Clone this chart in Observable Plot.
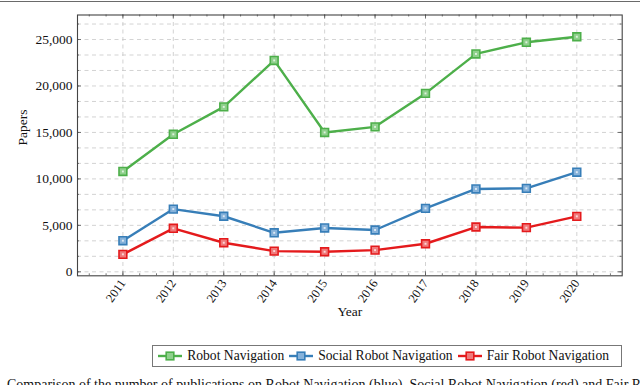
<!DOCTYPE html>
<html><head><meta charset="utf-8">
<script src="https://cdn.jsdelivr.net/npm/d3@7"></script>
<script src="https://cdn.jsdelivr.net/npm/@observablehq/plot@0.6"></script>
<style>
body{margin:0;width:640px;height:385px;overflow:hidden;background:#fff;font-family:"Liberation Serif","DejaVu Serif",serif;position:relative}
#chart svg, #chart svg text, #legend, #legend span, #caption{font-family:"Liberation Serif","DejaVu Serif",serif !important}
#topline{position:absolute;left:0;top:1px;width:640px;height:1.3px;background:#6a6a6a}
#chart svg{display:block}
#legendwrap{display:flex;justify-content:flex-end;width:622px;margin-top:4.7px}
#legend{display:flex;align-items:center;height:20.5px;border:1px solid #777;padding:0 7px 0 5px;font-size:13.6px;color:#111}
.item{display:flex;align-items:center}
.item svg{margin-right:5px}
.item span{margin-right:5px}
#caption{position:absolute;left:7px;top:377px;font-size:14px;white-space:nowrap;color:#111}
</style></head><body>
<div id="topline"></div>
<div id="chart"></div>
<div id="legendwrap"><div id="legend"></div></div>
<div id="caption">Comparison of the number of publications on Robot Navigation (blue), Social Robot Navigation (red) and Fair Robot Navigation (green).</div>
<script>
const years = [2011, 2012, 2013, 2014, 2015, 2016, 2017, 2018, 2019, 2020];
const robotNav = [10800, 14800, 17750, 22750, 15000, 15600, 19200, 23450, 24700, 25300];
const socialNav = [3350, 6750, 5980, 4200, 4720, 4500, 6830, 8920, 8980, 10720];
const fairNav = [1880, 4680, 3130, 2230, 2160, 2330, 3020, 4820, 4750, 5970];
const seriesNames = ["Robot Navigation", "Social Robot Navigation", "Fair Robot Navigation"];
const seriesColors = ["#4daf4a", "#377eb8", "#e41a1c"];
const seriesFills = ["#8fd08c", "#86b2da", "#f07a7b"];
const yTickValues = [0, 5000, 10000, 15000, 20000, 25000];

const seriesValues = [robotNav, socialNav, fairNav];
const data = [];
seriesNames.forEach((name, i) => {
  years.forEach((yr, j) => data.push({series: name, year: yr, value: seriesValues[i][j], color: seriesColors[i], fill: seriesFills[i]}));
});

const FONT = "Liberation Serif, DejaVu Serif, serif";
const W = 640, H = 340;
const mL = 77, mR = 18.3, mT = 14.5, mB = 64.7;
const pw = W - mL - mR, ph = H - mT - mB;
const yMinor = d3.range(0, 27700, 5000 / 3);
const xMinor = d3.range(2010 + 1/3, 2021, 1/3).filter(v => v > 2010.1 && v < 2020.9);
const yMajorAll = d3.range(0, 27700, 5000);

const grid = {stroke: "#c8c8c8", strokeWidth: 0.8, strokeDasharray: "4,3.5"};
const tickStroke = {stroke: "#555", strokeWidth: 0.8};

const chart = Plot.plot({
  width: W, height: H,
  marginLeft: mL, marginRight: mR, marginTop: mT, marginBottom: mB,
  style: {fontFamily: FONT, fontSize: "13px", color: "#111", background: "white"},
  x: {type: "linear", domain: [2010.1, 2020.9], axis: null},
  y: {domain: [-430, 27640], axis: null},
  color: {type: "identity"},
  marks: [
    Plot.ruleY(yMinor, grid),
    Plot.ruleX(years, grid),
    Plot.ruleX(years, {...tickStroke, insetTop: ph - 4}),
    Plot.ruleX(years, {...tickStroke, insetBottom: ph - 4}),
    Plot.ruleX(xMinor, {...tickStroke, insetTop: ph - 2}),
    Plot.ruleX(xMinor, {...tickStroke, insetBottom: ph - 2}),
    Plot.ruleY(yMajorAll, {...tickStroke, insetRight: pw - 4}),
    Plot.ruleY(yMajorAll, {...tickStroke, insetLeft: pw - 4}),
    Plot.ruleY(yMinor, {...tickStroke, insetRight: pw - 2}),
    Plot.ruleY(yMinor, {...tickStroke, insetLeft: pw - 2}),
    Plot.frame({stroke: "#444", strokeWidth: 1.1}),
    Plot.axisY({ticks: yTickValues, tickFormat: d3.format(","), tickSize: 0, tickPadding: 5, fontSize: 13.5, fontFamily: FONT, label: null}),
    Plot.axisX({ticks: years, tickFormat: d => String(d), tickRotate: -55, tickSize: 0, tickPadding: 5, fontSize: 12.5, fontFamily: FONT, label: null}),
    Plot.text(["Papers"], {frameAnchor: "left", rotate: -90, dx: -55, fontSize: 13.5, fontFamily: FONT}),
    Plot.text(["Year"], {frameAnchor: "bottom", dy: 39.7, fontSize: 13.5, fontFamily: FONT}),
    Plot.line(data, {x: "year", y: "value", z: "series", stroke: "color", strokeWidth: 2.4}),
    Plot.dot(data, {x: "year", y: "value", symbol: "square", r: 4.4, fill: "fill", stroke: "color", strokeWidth: 1.6}),
    Plot.dot(data, {x: "year", y: "value", symbol: "square", r: 1.1, fill: "white", fillOpacity: 0.7})
  ]
});
document.getElementById("chart").appendChild(chart);

const legend = document.getElementById("legend");
seriesNames.forEach((name, i) => {
  const item = document.createElement("div");
  item.className = "item";
  item.innerHTML = `<svg width="24" height="10" viewBox="0 0 24 10"><line x1="0" y1="5" x2="24" y2="5" stroke="${seriesColors[i]}" stroke-width="2.4"/><rect x="8.2" y="1.2" width="7.6" height="7.6" fill="${seriesFills[i]}" stroke="${seriesColors[i]}" stroke-width="1.6"/></svg><span>${name}</span>`;
  legend.appendChild(item);
});
</script>
</body></html>
